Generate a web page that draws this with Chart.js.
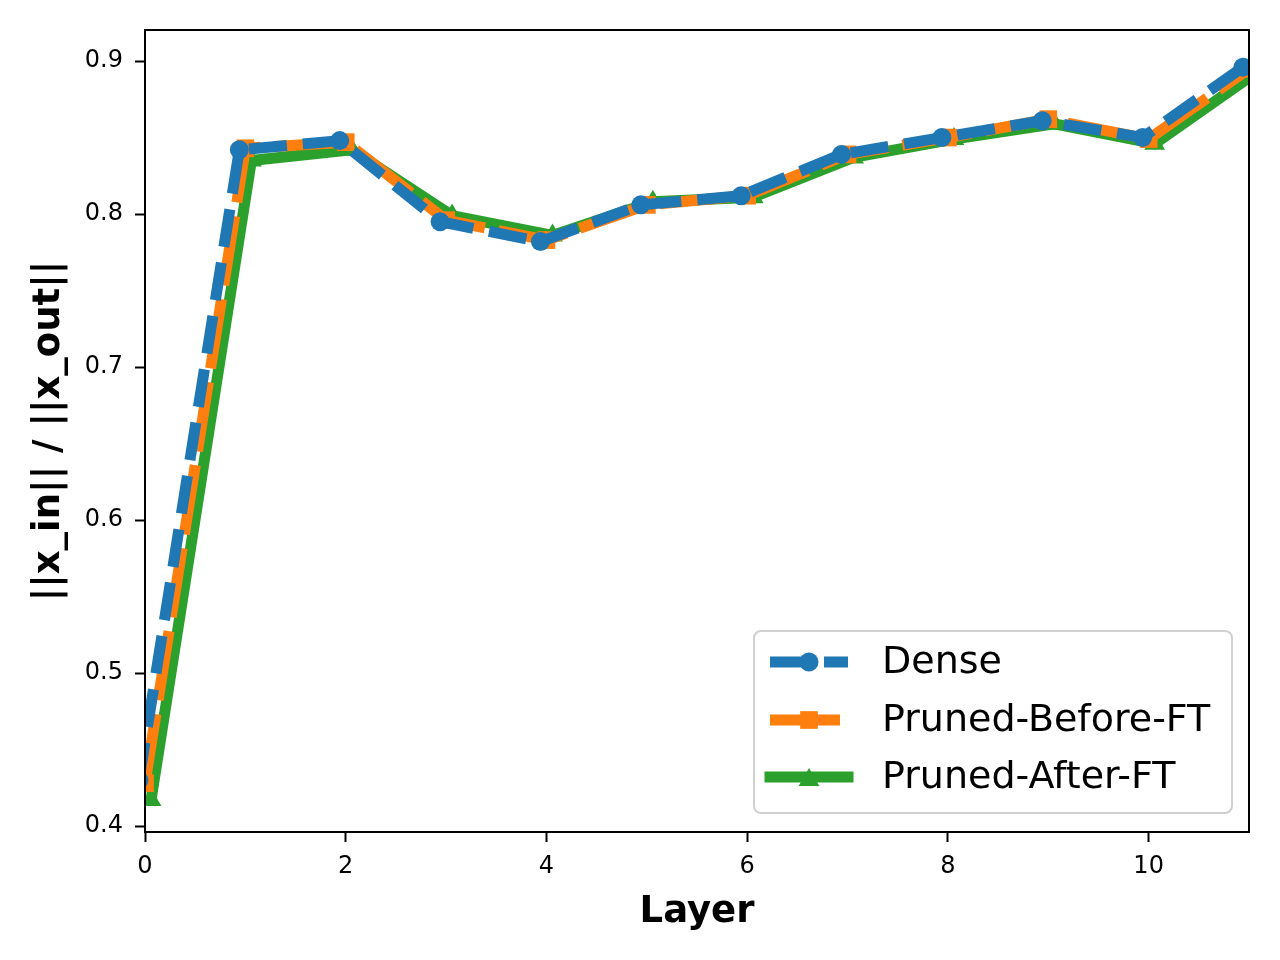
<!DOCTYPE html>
<html>
<head>
<meta charset="utf-8">
<script src="https://cdn.jsdelivr.net/npm/chart.js@4.4.0/dist/chart.umd.min.js"></script>
<style>
  html, body { margin: 0; padding: 0; background: #fff; }
  #wrap { width: 1280px; height: 960px; }
</style>
</head>
<body>
<div id="wrap"><canvas id="chart" width="1280" height="960"></canvas></div>
<script>
// Valores (ratio de normas por capa)
const LAYERS      = [0, 1, 2, 3, 4, 5, 6, 7, 8, 9, 10, 11];
const DENSE_X     = [-0.06, 0.94, 1.94, 2.94, 3.94, 4.94, 5.94, 6.94, 7.94, 8.94, 9.94, 10.94];
const AFTER_X     = [0.06, 1.06, 2.06, 3.06, 4.06, 5.06, 6.06, 7.06, 8.06, 9.06, 10.06, 11.06];
const DENSE       = [0.430, 0.842, 0.848, 0.795, 0.782, 0.806, 0.812, 0.839, 0.850, 0.861, 0.850, 0.896];
const PRUNED_BEF  = [0.428, 0.843, 0.847, 0.796, 0.783, 0.806, 0.812, 0.839, 0.850, 0.862, 0.849, 0.895];
const PRUNED_AFT  = [0.417, 0.835, 0.842, 0.799, 0.786, 0.808, 0.811, 0.837, 0.849, 0.859, 0.846, 0.892];
const SERIES_NAMES = ['Dense', 'Pruned-Before-FT', 'Pruned-After-FT'];
const X_TICKS = [0, 2, 4, 6, 8, 10];
const Y_TICKS = [0.4, 0.5, 0.6, 0.7, 0.8, 0.9];

const FONT = "'DejaVu Sans', sans-serif";
const BLUE = '#1f77b4', ORANGE = '#ff7f0e', GREEN = '#2ca02c';
const LW = 11;

const pts = (xs, ys) => xs.map((x, i) => ({ x, y: ys[i] }));

// Marco completo del área (spines de matplotlib)
const frame = {
  id: 'frame',
  afterDatasetsDraw(chart) {
    const { ctx, chartArea: a } = chart;
    ctx.save();
    ctx.strokeStyle = '#000';
    ctx.lineWidth = 2;
    ctx.strokeRect(a.left, a.top, a.right - a.left, a.bottom - a.top);
    ctx.restore();
  },
};

function drawMarker(ctx, style, x, y, r) {
  ctx.beginPath();
  if (style === 'circle') {
    ctx.arc(x, y, r, 0, Math.PI * 2);
  } else if (style === 'rect') {
    const s = r * Math.SQRT1_2;
    ctx.rect(x - s, y - s, 2 * s, 2 * s);
  } else {
    ctx.moveTo(x, y - r);
    ctx.lineTo(x + 0.866 * r, y + r / 2);
    ctx.lineTo(x - 0.866 * r, y + r / 2);
    ctx.closePath();
  }
  ctx.fill();
}

// Leyenda estilo matplotlib, abajo a la derecha dentro del área
const legendBox = {
  id: 'legendBox',
  afterDraw(chart) {
    const ctx = chart.ctx;
    const bx = 754, by = 631, bw = 478, bh = 182, rad = 7;
    ctx.save();
    ctx.beginPath();
    ctx.moveTo(bx + rad, by);
    ctx.arcTo(bx + bw, by, bx + bw, by + bh, rad);
    ctx.arcTo(bx + bw, by + bh, bx, by + bh, rad);
    ctx.arcTo(bx, by + bh, bx, by, rad);
    ctx.arcTo(bx, by, bx + bw, by, rad);
    ctx.closePath();
    ctx.fillStyle = 'rgba(255,255,255,0.8)';
    ctx.fill();
    ctx.strokeStyle = '#d0d0d0';
    ctx.lineWidth = 2;
    ctx.stroke();

    const rows = [662, 720, 777];
    chart.data.datasets.forEach((ds, i) => {
      const y = rows[i];
      ctx.strokeStyle = ds.borderColor;
      ctx.lineWidth = ds.borderWidth;
      ctx.lineCap = ds.borderCapStyle;
      ctx.setLineDash(ds.borderDash || []);
      ctx.beginPath();
      ctx.moveTo(770, y);
      ctx.lineTo(848, y);
      ctx.stroke();
      ctx.setLineDash([]);
      ctx.fillStyle = ds.borderColor;
      // el triángulo de matplotlib va centrado por su caja
      const my = ds.pointStyle === 'triangle' ? y + ds.pointRadius / 4 : y;
      drawMarker(ctx, ds.pointStyle, 809, my, ds.pointRadius);
      ctx.fillStyle = '#000';
      ctx.font = '38px ' + FONT;
      ctx.textBaseline = 'middle';
      ctx.textAlign = 'left';
      ctx.fillText(ds.label, 882, y + 1);
    });
    ctx.restore();
  },
};

const ctx = document.getElementById('chart');
new Chart(ctx, {
  type: 'line',
  data: {
    datasets: [
      {
        label: SERIES_NAMES[0], data: pts(DENSE_X, DENSE), order: 0,
        borderColor: BLUE, backgroundColor: BLUE, borderWidth: LW,
        borderDash: [38, 16], borderCapStyle: 'butt', borderJoinStyle: 'round',
        pointStyle: 'circle', pointRadius: 9.5, pointBackgroundColor: BLUE, pointBorderWidth: 0,
        tension: 0, clip: 0,
      },
      {
        label: SERIES_NAMES[1], data: pts(LAYERS, PRUNED_BEF), order: 1,
        borderColor: ORANGE, backgroundColor: ORANGE, borderWidth: LW,
        borderDash: [70, 14], borderCapStyle: 'butt', borderJoinStyle: 'round',
        pointStyle: 'rect', pointRadius: 12.5, pointBackgroundColor: ORANGE, pointBorderWidth: 0,
        tension: 0, clip: 0,
      },
      {
        label: SERIES_NAMES[2], data: pts(AFTER_X, PRUNED_AFT), order: 2,
        borderColor: GREEN, backgroundColor: GREEN, borderWidth: LW,
        borderCapStyle: 'square', borderJoinStyle: 'round',
        pointStyle: 'triangle', pointRadius: 12, pointBackgroundColor: GREEN, pointBorderWidth: 0,
        tension: 0, clip: 0,
      },
    ],
  },
  options: {
    responsive: false, animation: false, devicePixelRatio: 1,
    layout: { padding: { top: 30, right: 31, left: 0, bottom: 0 } },
    plugins: { legend: { display: false }, tooltip: { enabled: false } },
    scales: {
      x: {
        type: 'linear', min: 0, max: 11,
        afterBuildTicks: s => { s.ticks = X_TICKS.map(v => ({ value: v })); },
        afterFit: s => { s.height = 128; },
        border: { display: false },
        grid: { drawOnChartArea: false, drawTicks: true, tickLength: 10, tickColor: '#000', tickWidth: 2 },
        ticks: { color: '#000', font: { family: FONT, size: 24 }, padding: 10, maxRotation: 0,
                 callback: v => String(v) },
        title: { display: true, text: 'Layer', color: '#000',
                 font: { family: FONT, size: 37, weight: 'bold' }, padding: { top: 0, bottom: 25 } },
      },
      y: {
        type: 'linear', min: 0.3961, max: 0.9203,
        afterBuildTicks: s => { s.ticks = Y_TICKS.map(v => ({ value: v })); },
        afterFit: s => { s.width = 145; },
        border: { display: false },
        grid: { drawOnChartArea: false, drawTicks: true, tickLength: 10, tickColor: '#000', tickWidth: 2 },
        ticks: { color: '#000', font: { family: FONT, size: 24 }, padding: 12,
                 callback: v => v.toFixed(1) },
        title: { display: true, text: '||x_in|| / ||x_out||', color: '#000',
                 font: { family: FONT, size: 37, weight: 'bold' }, padding: { top: 27, bottom: 0 } },
      },
    },
  },
  plugins: [frame, legendBox],
});
</script>
</body>
</html>
